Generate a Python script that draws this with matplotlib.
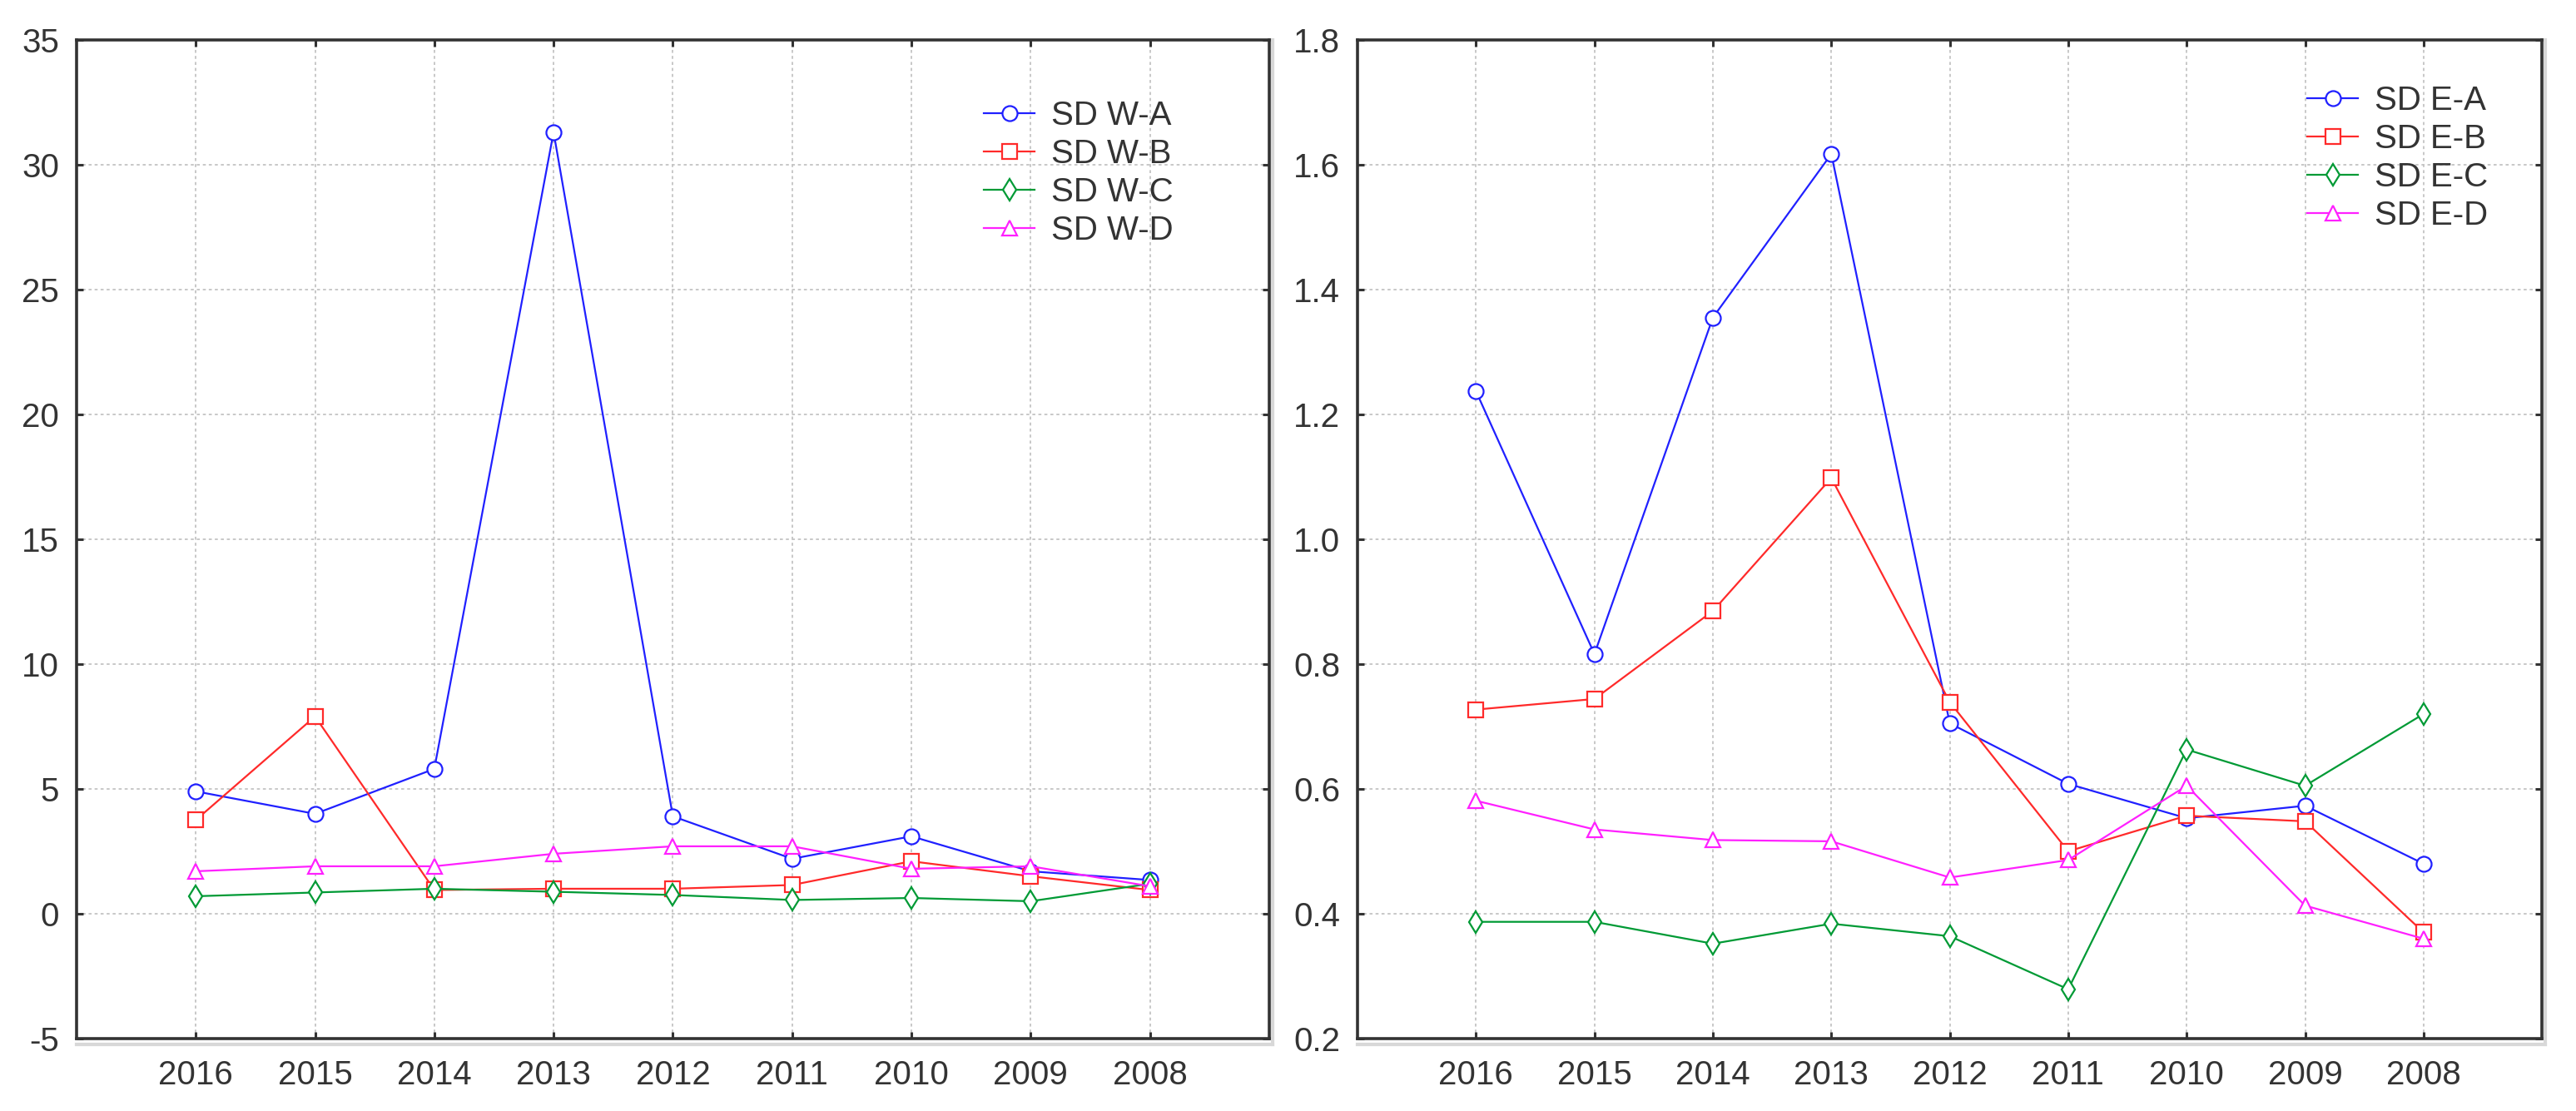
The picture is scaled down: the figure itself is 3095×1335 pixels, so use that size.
import matplotlib
matplotlib.use('Agg')
import matplotlib.pyplot as plt
from matplotlib.ticker import FormatStrFormatter

plt.rcParams['font.family'] = ['Liberation Sans', 'DejaVu Sans']
plt.rcParams['axes.unicode_minus'] = False

# data
years = ['2016', '2015', '2014', '2013', '2012', '2011', '2010', '2009', '2008']

sd_w_a = [4.9, 4.0, 5.8, 31.3, 3.9, 2.2, 3.1, 1.7, 1.35]
sd_w_b = [3.75, 7.9, 0.95, 1.0, 1.0, 1.15, 2.1, 1.5, 0.95]
sd_w_c = [0.7, 0.85, 1.0, 0.88, 0.75, 0.55, 0.63, 0.5, 1.2]
sd_w_d = [1.7, 1.9, 1.9, 2.4, 2.7, 2.7, 1.8, 1.9, 1.1]

sd_e_a = [1.237, 0.816, 1.355, 1.617, 0.705, 0.608, 0.553, 0.573, 0.48]
sd_e_b = [0.727, 0.744, 0.885, 1.098, 0.739, 0.50, 0.557, 0.548, 0.37]
sd_e_c = [0.387, 0.387, 0.352, 0.384, 0.364, 0.279, 0.663, 0.605, 0.72]
sd_e_d = [0.581, 0.535, 0.518, 0.516, 0.458, 0.486, 0.605, 0.413, 0.36]

w_labels = ['SD W-A', 'SD W-B', 'SD W-C', 'SD W-D']
e_labels = ['SD E-A', 'SD E-B', 'SD E-C', 'SD E-D']

colors = ['#2020ff', '#ff2a2a', '#009a35', '#ff20ff']
markers = ['o', 's', 'd', '^']

text_col = '#333333'
spine_col = '#333333'

fig = plt.figure(figsize=(30.95, 13.35), dpi=100)
ax1 = fig.add_axes([0.0297, 0.0652, 0.463, 0.899])
ax2 = fig.add_axes([0.527, 0.0652, 0.4598, 0.899])

x = list(range(1, len(years) + 1))


def draw_panel(ax, series, labels, yticks, ylim, fmt, leg_anchor):
    for vals, lab, c, m in zip(series, labels, colors, markers):
        ax.plot(x, vals, color=c, lw=1.6, marker=m, markersize=13,
                markerfacecolor='white', markeredgecolor=c, markeredgewidth=1.6,
                label=lab, zorder=3)
    ax.set_xlim(0, 10)
    ax.set_ylim(*ylim)
    ax.set_xticks(x)
    ax.set_xticklabels(years)
    ax.set_yticks(yticks)
    if fmt:
        ax.yaxis.set_major_formatter(FormatStrFormatter(fmt))
    ax.grid(True, color='#c4c4c4', linestyle=(0, (2, 2)), linewidth=1.3)
    ax.set_axisbelow(True)
    ax.tick_params(axis='both', direction='in', length=6, width=2.2,
                   color=spine_col, labelsize=29, labelcolor=text_col,
                   top=True, right=True)
    ax.tick_params(axis='x', pad=18)
    ax.tick_params(axis='y', pad=15)
    for s in ax.spines.values():
        s.set_color(spine_col)
        s.set_linewidth(2.6)
    # faint shadow under the bottom spine and beside the right spine
    ax.plot([0, 1.003], [-0.006, -0.006], transform=ax.transAxes, color='#d8d8d8',
            lw=3, clip_on=False, zorder=0)
    ax.plot([1.003, 1.003], [-0.006, 1.0], transform=ax.transAxes, color='#d8d8d8',
            lw=3, clip_on=False, zorder=0)
    ax.legend(loc='upper left', bbox_to_anchor=leg_anchor, frameon=False,
              fontsize=29, handlelength=1.5, handletextpad=0.5,
              labelspacing=0.2, borderpad=0, borderaxespad=0,
              labelcolor=text_col)


draw_panel(ax1, [sd_w_a, sd_w_b, sd_w_c, sd_w_d], w_labels,
           list(range(-5, 36, 5)), (-5, 35), None, (0.761, 0.94))
draw_panel(ax2, [sd_e_a, sd_e_b, sd_e_c, sd_e_d], e_labels,
           [0.2, 0.4, 0.6, 0.8, 1.0, 1.2, 1.4, 1.6, 1.8], (0.2, 1.8), '%.1f',
           (0.802, 0.955))

fig.savefig('out.png', dpi=100, facecolor='white')
